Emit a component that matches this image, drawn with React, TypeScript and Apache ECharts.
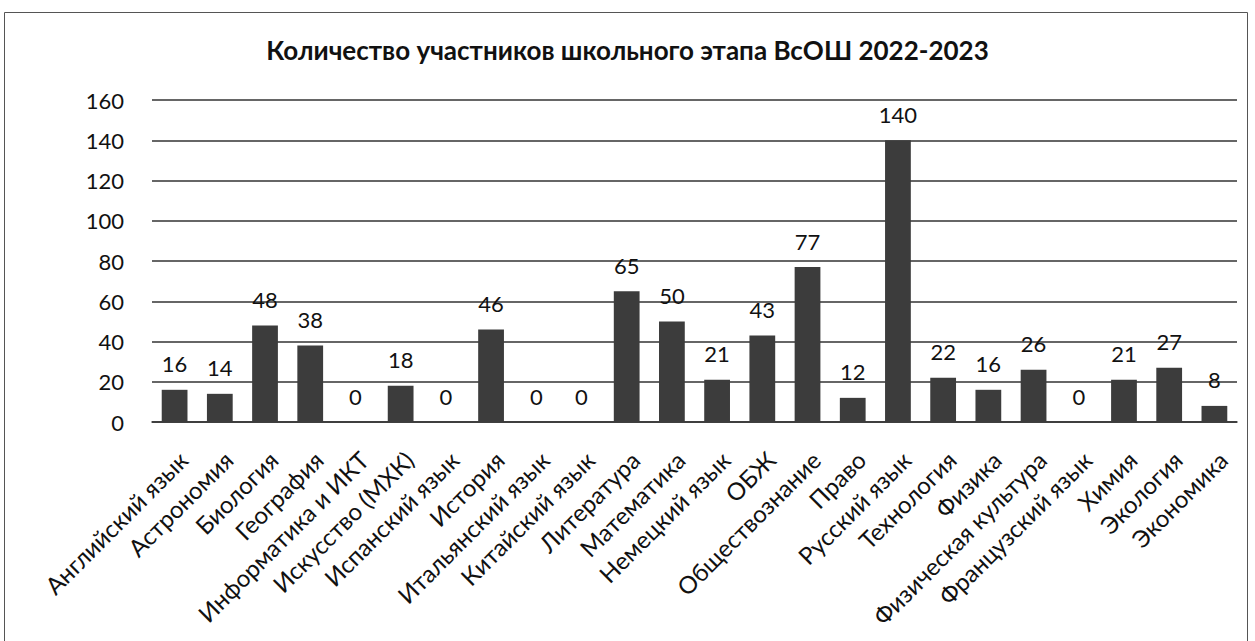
import React, { useEffect, useRef } from "react";
import * as echarts from "echarts";

const categories = [
  "Английский язык",
  "Астрономия",
  "Биология",
  "География",
  "Информатика и ИКТ",
  "Искусство (МХК)",
  "Испанский язык",
  "История",
  "Итальянский язык",
  "Китайский язык",
  "Литература",
  "Математика",
  "Немецкий язык",
  "ОБЖ",
  "Обществознание",
  "Право",
  "Русский язык",
  "Технология",
  "Физика",
  "Физическая культура",
  "Французский язык",
  "Химия",
  "Экология",
  "Экономика",
];

const values = [16, 14, 48, 38, 0, 18, 0, 46, 0, 0, 65, 50, 21, 43, 77, 12, 140, 22, 16, 26, 0, 21, 27, 8];

const titleText = "Количество участников школьного этапа ВсОШ 2022-2023";

export default function App() {
  const ref = useRef<HTMLDivElement>(null);
  useEffect(() => {
    if (!ref.current) return;
    const chart = echarts.init(ref.current, null, { renderer: "svg" });
    const font = "Lato, 'Open Sans', sans-serif";
    chart.setOption({
      animation: false,
      backgroundColor: "#ffffff",
      textStyle: { fontFamily: font },
      title: {
        text: titleText,
        left: "center",
        top: 32,
        textStyle: { fontFamily: font, fontSize: 26, fontWeight: "bold", color: "#111" },
      },
      graphic: [
        {
          type: "rect",
          shape: { x: 4.5, y: 12.5, width: 1243, height: 640 },
          style: { fill: "none", stroke: "#555", lineWidth: 1 },
          silent: true,
        },
      ],
      grid: { left: 152, right: 18, top: 100, bottom: 219, containLabel: false },
      xAxis: {
        type: "category",
        data: categories,
        axisLine: { show: true, lineStyle: { color: "#333", width: 1.5 } },
        axisTick: { show: false },
        axisLabel: {
          rotate: 45,
          interval: 0,
          margin: 25,
          fontSize: 24,
          verticalAlign: "top",
          color: "#111",
          fontFamily: font,
        },
      },
      yAxis: {
        type: "value",
        min: 0,
        max: 160,
        interval: 20,
        axisLine: { show: false },
        axisTick: { show: false },
        axisLabel: { fontSize: 22, color: "#111", margin: 28, fontFamily: font },
        splitLine: { show: true, lineStyle: { color: "#333", width: 1.5 } },
      },
      series: [
        {
          type: "bar",
          data: values,
          barWidth: "57%",
          itemStyle: { color: "#3c3c3c" },
          label: {
            show: true,
            position: "top",
            distance: 15,
            fontSize: 22,
            color: "#111",
            fontFamily: font,
          },
        },
      ],
    });
    return () => chart.dispose();
  }, []);
  return (
    <div
      ref={ref}
      style={{ position: "fixed", left: 0, top: 0, width: 1255, height: 641 }}
    />
  );
}
